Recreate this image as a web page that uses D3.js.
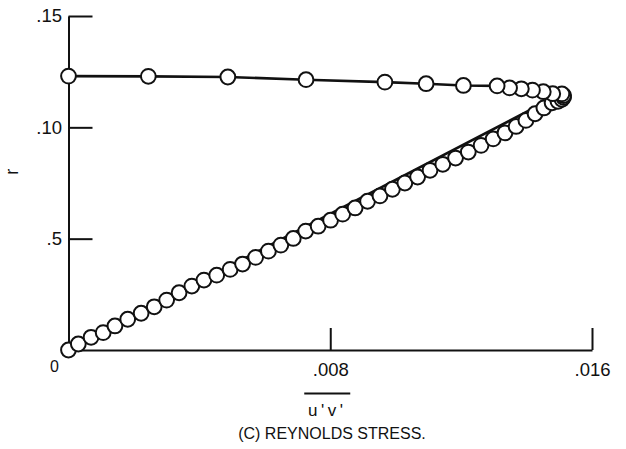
<!DOCTYPE html>
<html>
<head>
<meta charset="utf-8">
<script src="https://cdn.jsdelivr.net/npm/d3@7/dist/d3.min.js"></script>
<style>
  html, body { margin: 0; padding: 0; background: #fff; }
  svg { display: block; }
  text { font-family: "Liberation Sans", Arial, sans-serif; fill: #111; }
</style>
</head>
<body>
<svg id="chart" width="626" height="449"></svg>
<script>
// ---- data ----
// measured points: lower branch (origin -> tip) then upper branch (tip -> axis)
const pointUV = [0, 0.00030, 0.00069, 0.00106, 0.00142, 0.00181, 0.00222, 0.00262, 0.00300, 0.00338,
  0.00377, 0.00414, 0.00453, 0.00494, 0.00532, 0.00572, 0.00611, 0.00649, 0.00687, 0.00725,
  0.00763, 0.00801, 0.00838, 0.00876, 0.00914, 0.00952, 0.00990, 0.01028, 0.01067, 0.01105,
  0.01144, 0.01183, 0.01222, 0.01261, 0.01298, 0.01334, 0.01368, 0.01398, 0.01426, 0.01453,
  0.01478, 0.01496, 0.01508, 0.01513, 0.01513, 0.01508,
  0.01480, 0.01451, 0.01418, 0.01384, 0.01348, 0.01310, 0.01207, 0.01093, 0.00967, 0.00726,
  0.00487, 0.00244, 0];
const pointR = [0, 0.0027, 0.0057, 0.0078, 0.0108, 0.0138, 0.0165, 0.0194, 0.0224, 0.0257,
  0.0287, 0.0314, 0.0336, 0.0362, 0.0386, 0.0416, 0.0444, 0.0471, 0.0501, 0.0534,
  0.0556, 0.0583, 0.0610, 0.0638, 0.0668, 0.0692, 0.0722, 0.0750, 0.0777, 0.0807,
  0.0834, 0.0862, 0.0889, 0.0919, 0.0948, 0.0975, 0.1004, 0.1031, 0.1061, 0.1087,
  0.1110, 0.1117, 0.1126, 0.1135, 0.1143, 0.1150,
  0.1151, 0.1160, 0.1167, 0.1173, 0.1177, 0.1186, 0.1188, 0.1196, 0.1203, 0.1214,
  0.1226, 0.1229, 0.1230];
// solid curve
const lineUV = [0, 0.01508, 0.01480, 0.01451, 0.01418, 0.01384, 0.01348, 0.01310, 0.01207,
  0.01093, 0.00967, 0.00726, 0.00487, 0.00244, 0];
const lineR = [0, 0.1152, 0.1153, 0.1160, 0.1167, 0.1173, 0.1177, 0.1186, 0.1188,
  0.1196, 0.1203, 0.1214, 0.1226, 0.1229, 0.1230];
// axes
const xTickValues = [0.008, 0.016];
const xTickLabels = [".008", ".016"];
const yTickValues = [0.05, 0.10, 0.15];
const yTickLabels = [".5", ".10", ".15"];
const originLabel = "0";
const xTitle = "u'v'";
const yTitle = "r";
const caption = "(C) REYNOLDS STRESS.";

// ---- drawing ----
const svg = d3.select("#chart");
const x = d3.scaleLinear().domain([0, 0.016]).range([68.5, 592]);
const y = d3.scaleLinear().domain([0, 0.15]).range([350, 16]);

const xAxis = d3.axisBottom(x).tickValues(xTickValues)
  .tickFormat((d, i) => xTickLabels[i]).tickSizeInner(-22).tickSizeOuter(0).tickPadding(13);
const yAxis = d3.axisLeft(y).tickValues(yTickValues)
  .tickFormat((d, i) => yTickLabels[i]).tickSizeInner(-24).tickSizeOuter(0).tickPadding(6.5);

const gx = svg.append("g").attr("transform", `translate(0,${y(0)})`).call(xAxis);
const gy = svg.append("g").attr("transform", `translate(${x(0)},0)`).call(yAxis);
[gx, gy].forEach(g => {
  g.select(".domain").attr("stroke", "#111").attr("stroke-width", 2);
  g.selectAll(".tick line").attr("stroke", "#111").attr("stroke-width", 2);
  g.selectAll(".tick text").attr("font-size", 18.5).attr("fill", "#111")
    .attr("font-family", "Liberation Sans, Arial, sans-serif");
});

// origin label
svg.append("text").attr("x", x(0) - 14).attr("y", y(0) + 22)
  .attr("text-anchor", "middle").attr("font-size", 16).text(originLabel);

// x title with overbar
svg.append("text").attr("x", x(0.008) - 3).attr("y", y(0) + 66)
  .attr("text-anchor", "middle").attr("font-size", 17).attr("letter-spacing", 3.5)
  .text(xTitle);
svg.append("line").attr("x1", x(0.008) - 26).attr("x2", x(0.008) + 20)
  .attr("y1", y(0) + 43.5).attr("y2", y(0) + 43.5).attr("stroke", "#111").attr("stroke-width", 2);

// y title
svg.append("text").attr("transform", `translate(18,${y(0.08)}) rotate(-90)`)
  .attr("text-anchor", "middle").attr("font-size", 18).text(yTitle);

// caption
svg.append("text").attr("x", 332).attr("y", 439).attr("text-anchor", "middle")
  .attr("font-size", 16).text(caption);

// curve
const lineData = lineUV.map((v, i) => [v, lineR[i]]);
svg.append("path").datum(lineData)
  .attr("d", d3.line().x(d => x(d[0])).y(d => y(d[1])))
  .attr("fill", "none").attr("stroke", "#111").attr("stroke-width", 2.6);

// points
const pts = pointUV.map((v, i) => [v, pointR[i]]);
svg.append("g").selectAll("circle").data(pts).join("circle")
  .attr("cx", d => x(d[0])).attr("cy", d => y(d[1])).attr("r", 7.4)
  .attr("fill", "#fff").attr("stroke", "#111").attr("stroke-width", 2);
</script>
</body>
</html>
